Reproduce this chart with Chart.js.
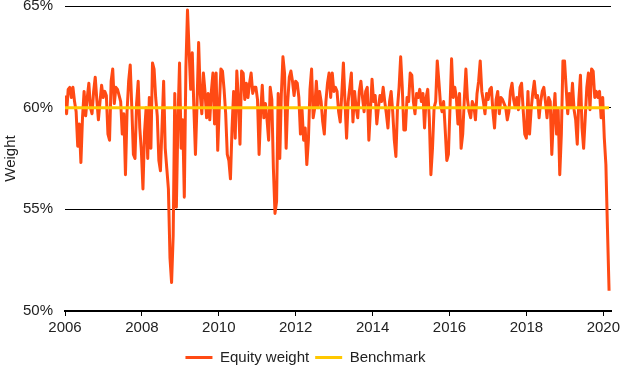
<!DOCTYPE html>
<html lang="en">
<head>
    <meta charset="UTF-8">
    <title>Equity weight vs benchmark</title>
    <style>
        body {
            margin: 0;
            padding: 0;
            background-color: #ffffff;
        }
        #chart {
            display: block;
        }
    </style>
</head>
<body>
    <canvas id="chart" width="620" height="367"></canvas>

    <script src="https://cdn.jsdelivr.net/npm/chart.js"></script>
    <script>
        // equity weight (%), roughly two readings per month
        var equityWeight = [
            60.6, 59.7, 60.9, 61.0, 60.5, 61.0, 60.3, 59.8, 58.1, 59.2, 57.3, 59.5, 60.8, 59.6, 60.5, 61.2,
            60.0, 59.7, 60.8, 61.5, 60.4, 59.4, 60.3, 61.1, 60.5, 60.8, 60.6, 58.7, 58.4, 61.3, 61.9, 60.2,
            61.0, 60.9, 60.6, 60.3, 58.7, 59.7, 56.7, 59.8, 61.3, 62.1, 60.0, 57.7, 57.5, 60.2,

            61.3, 59.0, 57.9, 56.0, 58.8, 60.0, 57.5, 60.5, 58.0, 62.2, 61.9, 60.5, 59.6, 57.4, 56.9, 59.1,
            61.3, 58.0, 57.0, 56.0, 52.6, 51.4, 53.7, 60.7, 55.1, 59.4, 62.2, 58.0, 59.4, 55.6, 62.0, 64.8,
            62.8, 60.9, 62.7, 60.0, 57.7, 60.2, 63.2, 60.7, 59.7, 61.7, 60.8, 59.5, 60.7, 59.4, 60.8, 61.7,
            59.2,

            61.7, 57.9, 60.1, 61.9, 61.8, 60.9, 59.7, 57.7, 57.4, 56.5, 59.0, 60.8, 58.5, 61.8, 60.4, 58.2,
            61.8, 61.7, 60.4, 61.2, 60.5, 61.2, 61.7, 60.7, 61.0, 61.0, 60.4, 57.7, 59.8, 61.1, 59.5, 60.2,
            59.4, 58.4, 61.0, 60.4, 57.0, 54.8, 55.4, 60.7, 57.5, 60.7, 62.5, 61.7, 58.0, 60.3, 61.5, 61.8,
            61.3, 60.6,

            61.3, 61.2, 60.5, 58.7, 59.9, 58.4, 59.0, 57.2, 58.4, 60.9, 61.9, 59.5, 60.0, 61.3, 60.0, 60.8,
            60.3, 59.3, 58.7, 60.3, 61.2, 61.7, 60.5, 61.7, 60.8, 61.0, 60.8, 59.8, 59.3, 60.7, 62.2, 60.3,
            58.5, 60.3, 61.0, 61.7, 59.3, 60.8, 60.0, 59.5, 60.8, 61.3, 60.5, 59.8, 60.8, 61.0, 58.4, 59.9,
            61.4, 60.3,

            60.6, 59.2, 60.0, 60.6, 60.3, 61.0, 60.3, 59.7, 59.0, 60.3, 60.8, 59.8, 58.4, 57.6, 60.0, 61.0,
            62.5, 61.0, 58.9, 58.9, 60.5, 60.3, 61.7, 61.6, 60.3, 59.7, 60.7, 60.5, 60.9, 60.3, 60.7, 59.0,
            60.5, 60.9, 59.5, 56.7, 58.0, 60.0, 60.3, 62.3, 61.3, 60.2, 59.8, 60.3, 58.9, 57.4, 57.7, 60.0,
            62.4, 60.5, 61.0,

            60.5, 59.2, 60.7, 58.0, 58.7, 60.4, 61.9, 60.4, 59.8, 59.5, 60.3, 60.1, 59.4, 60.7, 61.3, 62.3,
            60.8, 60.3, 59.7, 60.7, 60.4, 60.9, 61.0, 59.8, 59.0, 60.4, 60.8, 59.7, 60.5, 60.4, 60.2, 60.0,
            59.4, 59.8, 60.8, 61.2, 60.4, 60.0, 60.5, 59.9, 61.0, 61.2, 59.9, 58.7, 58.5, 60.8, 58.7, 59.9,
            60.7, 61.3, 60.5,

            60.6, 59.5, 60.3, 60.8, 61.0, 60.3, 59.5, 60.5, 60.3, 57.7, 59.5, 60.7, 58.7, 59.9, 56.7, 58.7,
            62.3, 62.3, 61.0, 59.7, 60.7, 60.0, 61.2, 59.9, 59.4, 58.2, 60.4, 61.6, 59.0, 58.0, 59.5, 61.0,
            61.7, 59.9, 61.9, 61.8, 60.5, 60.8, 60.5, 60.8, 59.5, 60.5, 58.5, 57.2, 54.0, 51.0
        ];
        var benchmarkWeight = 60;

        // series runs from the start of 2006 to about March 2020
        var firstDate = 2006.0;
        var lastDate = 2020.15;

        var xTicks = [2006, 2008, 2010, 2012, 2014, 2016, 2018, 2020];
        var yTicks = [50, 55, 60, 65];

        var textColor = '#222222';
        var fontFamily = "'Liberation Sans', Arial, sans-serif";

        var equityPoints = equityWeight.map(function (v, i) {
            return { x: firstDate + i * (lastDate - firstDate) / (equityWeight.length - 1), y: v };
        });
        var benchmarkPoints = [
            { x: firstDate, y: benchmarkWeight },
            { x: lastDate, y: benchmarkWeight }
        ];

        var ctx = document.getElementById('chart').getContext('2d');
        var chart = new Chart(ctx, {
            type: 'line',
            data: {
                datasets: [{
                    label: 'Equity weight',
                    data: equityPoints,
                    borderColor: '#FF4A14',
                    backgroundColor: '#FF4A14',
                    borderWidth: 3,
                    borderJoinStyle: 'round',
                    pointRadius: 0,
                    tension: 0,
                    order: 1
                }, {
                    label: 'Benchmark',
                    data: benchmarkPoints,
                    borderColor: '#FFC800',
                    backgroundColor: '#FFC800',
                    borderWidth: 3,
                    pointRadius: 0,
                    order: 0
                }]
            },
            options: {
                responsive: false,
                animation: false,
                layout: {
                    padding: { top: 6, right: 9, left: 0, bottom: -8 }
                },
                scales: {
                    x: {
                        type: 'linear',
                        min: 2006,
                        max: 2020.2,
                        afterBuildTicks: function (axis) {
                            axis.ticks = xTicks.map(function (v) { return { value: v }; });
                        },
                        afterFit: function (axis) {
                            axis.height = 33;
                            axis.paddingLeft = 0;
                            axis.paddingRight = 0;
                        },
                        ticks: {
                            autoSkip: false,
                            maxRotation: 0,
                            color: textColor,
                            font: { family: fontFamily, size: 15 },
                            padding: 3,
                            callback: function (v) { return String(v); }
                        },
                        grid: {
                            drawOnChartArea: false,
                            drawTicks: true,
                            tickLength: 5,
                            color: '#000000',
                            lineWidth: 1
                        },
                        border: { display: true, color: '#000000', width: 2 }
                    },
                    y: {
                        min: 50,
                        max: 65,
                        afterBuildTicks: function (axis) {
                            axis.ticks = yTicks.map(function (v) { return { value: v }; });
                        },
                        afterFit: function (axis) {
                            axis.width = 65;
                            axis.paddingTop = 0;
                            axis.paddingBottom = 0;
                        },
                        ticks: {
                            color: textColor,
                            font: { family: fontFamily, size: 15 },
                            padding: 12,
                            callback: function (v) { return v + '%'; }
                        },
                        grid: {
                            color: '#000000',
                            lineWidth: 1,
                            drawTicks: false
                        },
                        border: { display: false },
                        title: {
                            display: true,
                            text: 'Weight',
                            color: textColor,
                            font: { family: fontFamily, size: 15 },
                            padding: { top: 2, bottom: 0 }
                        }
                    }
                },
                plugins: {
                    legend: {
                        position: 'bottom',
                        labels: {
                            boxWidth: 27,
                            boxHeight: 3,
                            padding: 6,
                            color: textColor,
                            font: { family: fontFamily, size: 15 },
                            sort: function (a, b) { return a.datasetIndex - b.datasetIndex; },
                            generateLabels: function (c) {
                                return Chart.defaults.plugins.legend.labels.generateLabels(c).map(function (l) {
                                    l.lineWidth = 0;
                                    l.fillStyle = l.strokeStyle;
                                    return l;
                                });
                            }
                        }
                    },
                    tooltip: { enabled: false }
                }
            }
        });
    </script>
</body>
</html>
